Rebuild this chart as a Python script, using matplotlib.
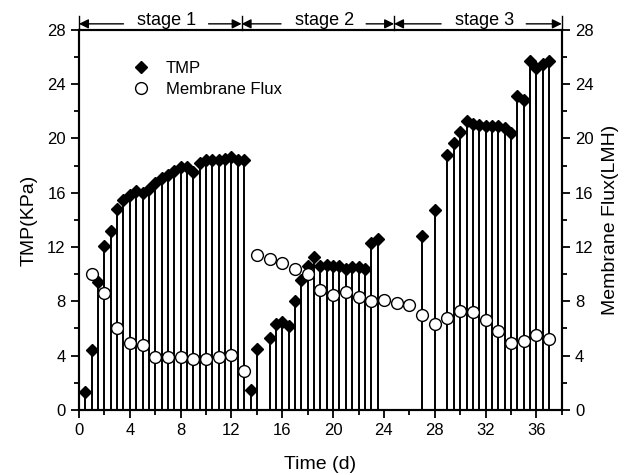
import numpy as np
import matplotlib
matplotlib.use("Agg")
import matplotlib.pyplot as plt
from matplotlib.ticker import MultipleLocator
from matplotlib.transforms import blended_transform_factory

plt.rcParams['font.family'] = ['Liberation Sans', 'DejaVu Sans']

# TMP (KPa) readings, one every half day
tmp_days = [0.5, 1, 1.5, 2, 2.5, 3, 3.5, 4, 4.5, 5, 5.5, 6, 6.5, 7, 7.5, 8, 8.5,
            9, 9.5, 10, 10.5, 11, 11.5, 12, 12.5, 13,
            13.5, 14, 15, 15.5, 16, 16.5, 17, 17.5, 18, 18.5, 19, 19.5, 20, 20.5,
            21, 21.5, 22, 22.5, 23, 23.5,
            27, 28, 29, 29.5, 30, 30.5, 31, 31.5, 32, 32.5, 33, 33.5, 34, 34.5,
            35, 35.5, 36, 36.5, 37]
tmp_vals = [1.3, 4.4, 9.4, 12.1, 13.2, 14.8, 15.5, 15.8, 16.1, 16.0, 16.3, 16.7, 17.1,
            17.3, 17.6, 17.9, 17.9, 17.5, 18.2, 18.4, 18.4, 18.4, 18.5, 18.6, 18.4, 18.4,
            1.5, 4.5, 5.3, 6.3, 6.5, 6.2, 8.0, 9.6, 10.6, 11.3, 10.6, 10.7, 10.6, 10.6,
            10.4, 10.5, 10.5, 10.4, 12.3, 12.6,
            12.8, 14.7, 18.8, 19.7, 20.5, 21.3, 21.1, 21.0, 20.9, 20.9, 20.9, 20.8, 20.4,
            23.1, 22.8, 25.7, 25.2, 25.5, 25.7]

# membrane flux (LMH), one per day
flux_days = list(range(1, 38))
flux_vals = [10.0, 8.6, 6.0, 4.9, 4.8, 3.9, 3.9, 3.9, 3.75, 3.75, 3.9, 4.05, 2.85,
             11.45, 11.15, 10.85, 10.4, 10.05, 8.8, 8.5, 8.7, 8.35, 8.0, 8.1, 7.9,
             7.75, 7.0, 6.3, 6.75, 7.3, 7.25, 6.6, 5.8, 4.9, 5.1, 5.5, 5.2]

stage_edges = [0, 12.8, 24.8, 38]
stage_names = ['stage 1', 'stage 2', 'stage 3']

fig = plt.figure(figsize=(6.27, 4.75), dpi=100)
ax = fig.add_axes([0.126, 0.137, 0.770, 0.80])

ax.vlines(tmp_days, 0, tmp_vals, colors='k', lw=1.4, zorder=2)
ax.plot(tmp_days, tmp_vals, ls='none', marker='D', ms=6.2, color='k', zorder=3, label='TMP')

ax2 = ax.twinx()
ax2.plot(flux_days, flux_vals, ls='none', marker='o', ms=8.5, mfc='white', mec='k',
         mew=1.0, zorder=4, label='Membrane Flux')

for a in (ax, ax2):
    a.set_xlim(0, 38)
    a.set_ylim(0, 28)
    a.yaxis.set_major_locator(MultipleLocator(4))
    a.yaxis.set_minor_locator(MultipleLocator(2))
    for s in a.spines.values():
        s.set_linewidth(1.5)
ax.xaxis.set_major_locator(MultipleLocator(4))
ax.xaxis.set_minor_locator(MultipleLocator(2))
ax.tick_params(which='both', direction='out', width=1.3, labelsize=12, top=False)
ax.tick_params(which='major', length=6)
ax.tick_params(which='minor', length=3.5)
ax2.tick_params(which='both', direction='out', width=1.3, labelsize=12)
ax2.tick_params(which='major', length=6)
ax2.tick_params(which='minor', length=3.5)

ax.set_xlabel('Time (d)', fontsize=14, labelpad=13)
ax.set_ylabel('TMP(KPa)', fontsize=14, labelpad=7)
ax2.set_ylabel('Membrane Flux(LMH)', fontsize=14, labelpad=6)

h1, l1 = ax.get_legend_handles_labels()
h2, l2 = ax2.get_legend_handles_labels()
ax2.legend(h1 + h2, l1 + l2, loc='upper left', bbox_to_anchor=(0.093, 0.94),
           frameon=False, fontsize=12, handlelength=1.0, handletextpad=1.0,
           labelspacing=0.35, borderpad=0)

# stage markers above the top axis
tr = blended_transform_factory(ax.transData, ax.transAxes)
for i, name in enumerate(stage_names):
    x0, x1 = stage_edges[i], stage_edges[i + 1]
    xc = (x0 + x1) / 2 + 0.5
    ax.text(xc, 1.013, name, transform=tr, ha='center', va='baseline', fontsize=13,
            clip_on=False)
    for tail, head in ((xc - 3.4, x0), (xc + 3.3, x1)):
        ax.annotate('', xy=(head, 1.016), xytext=(tail, 1.016), xycoords=tr,
                    textcoords=tr, annotation_clip=False,
                    arrowprops=dict(arrowstyle='-|>', color='k', lw=1.0,
                                    mutation_scale=14, shrinkA=0, shrinkB=0))
for e in stage_edges:
    ax.plot([e, e], [1.0, 1.037], transform=tr, color='k', lw=1.0, clip_on=False)

fig.savefig('out.png', dpi=100)
